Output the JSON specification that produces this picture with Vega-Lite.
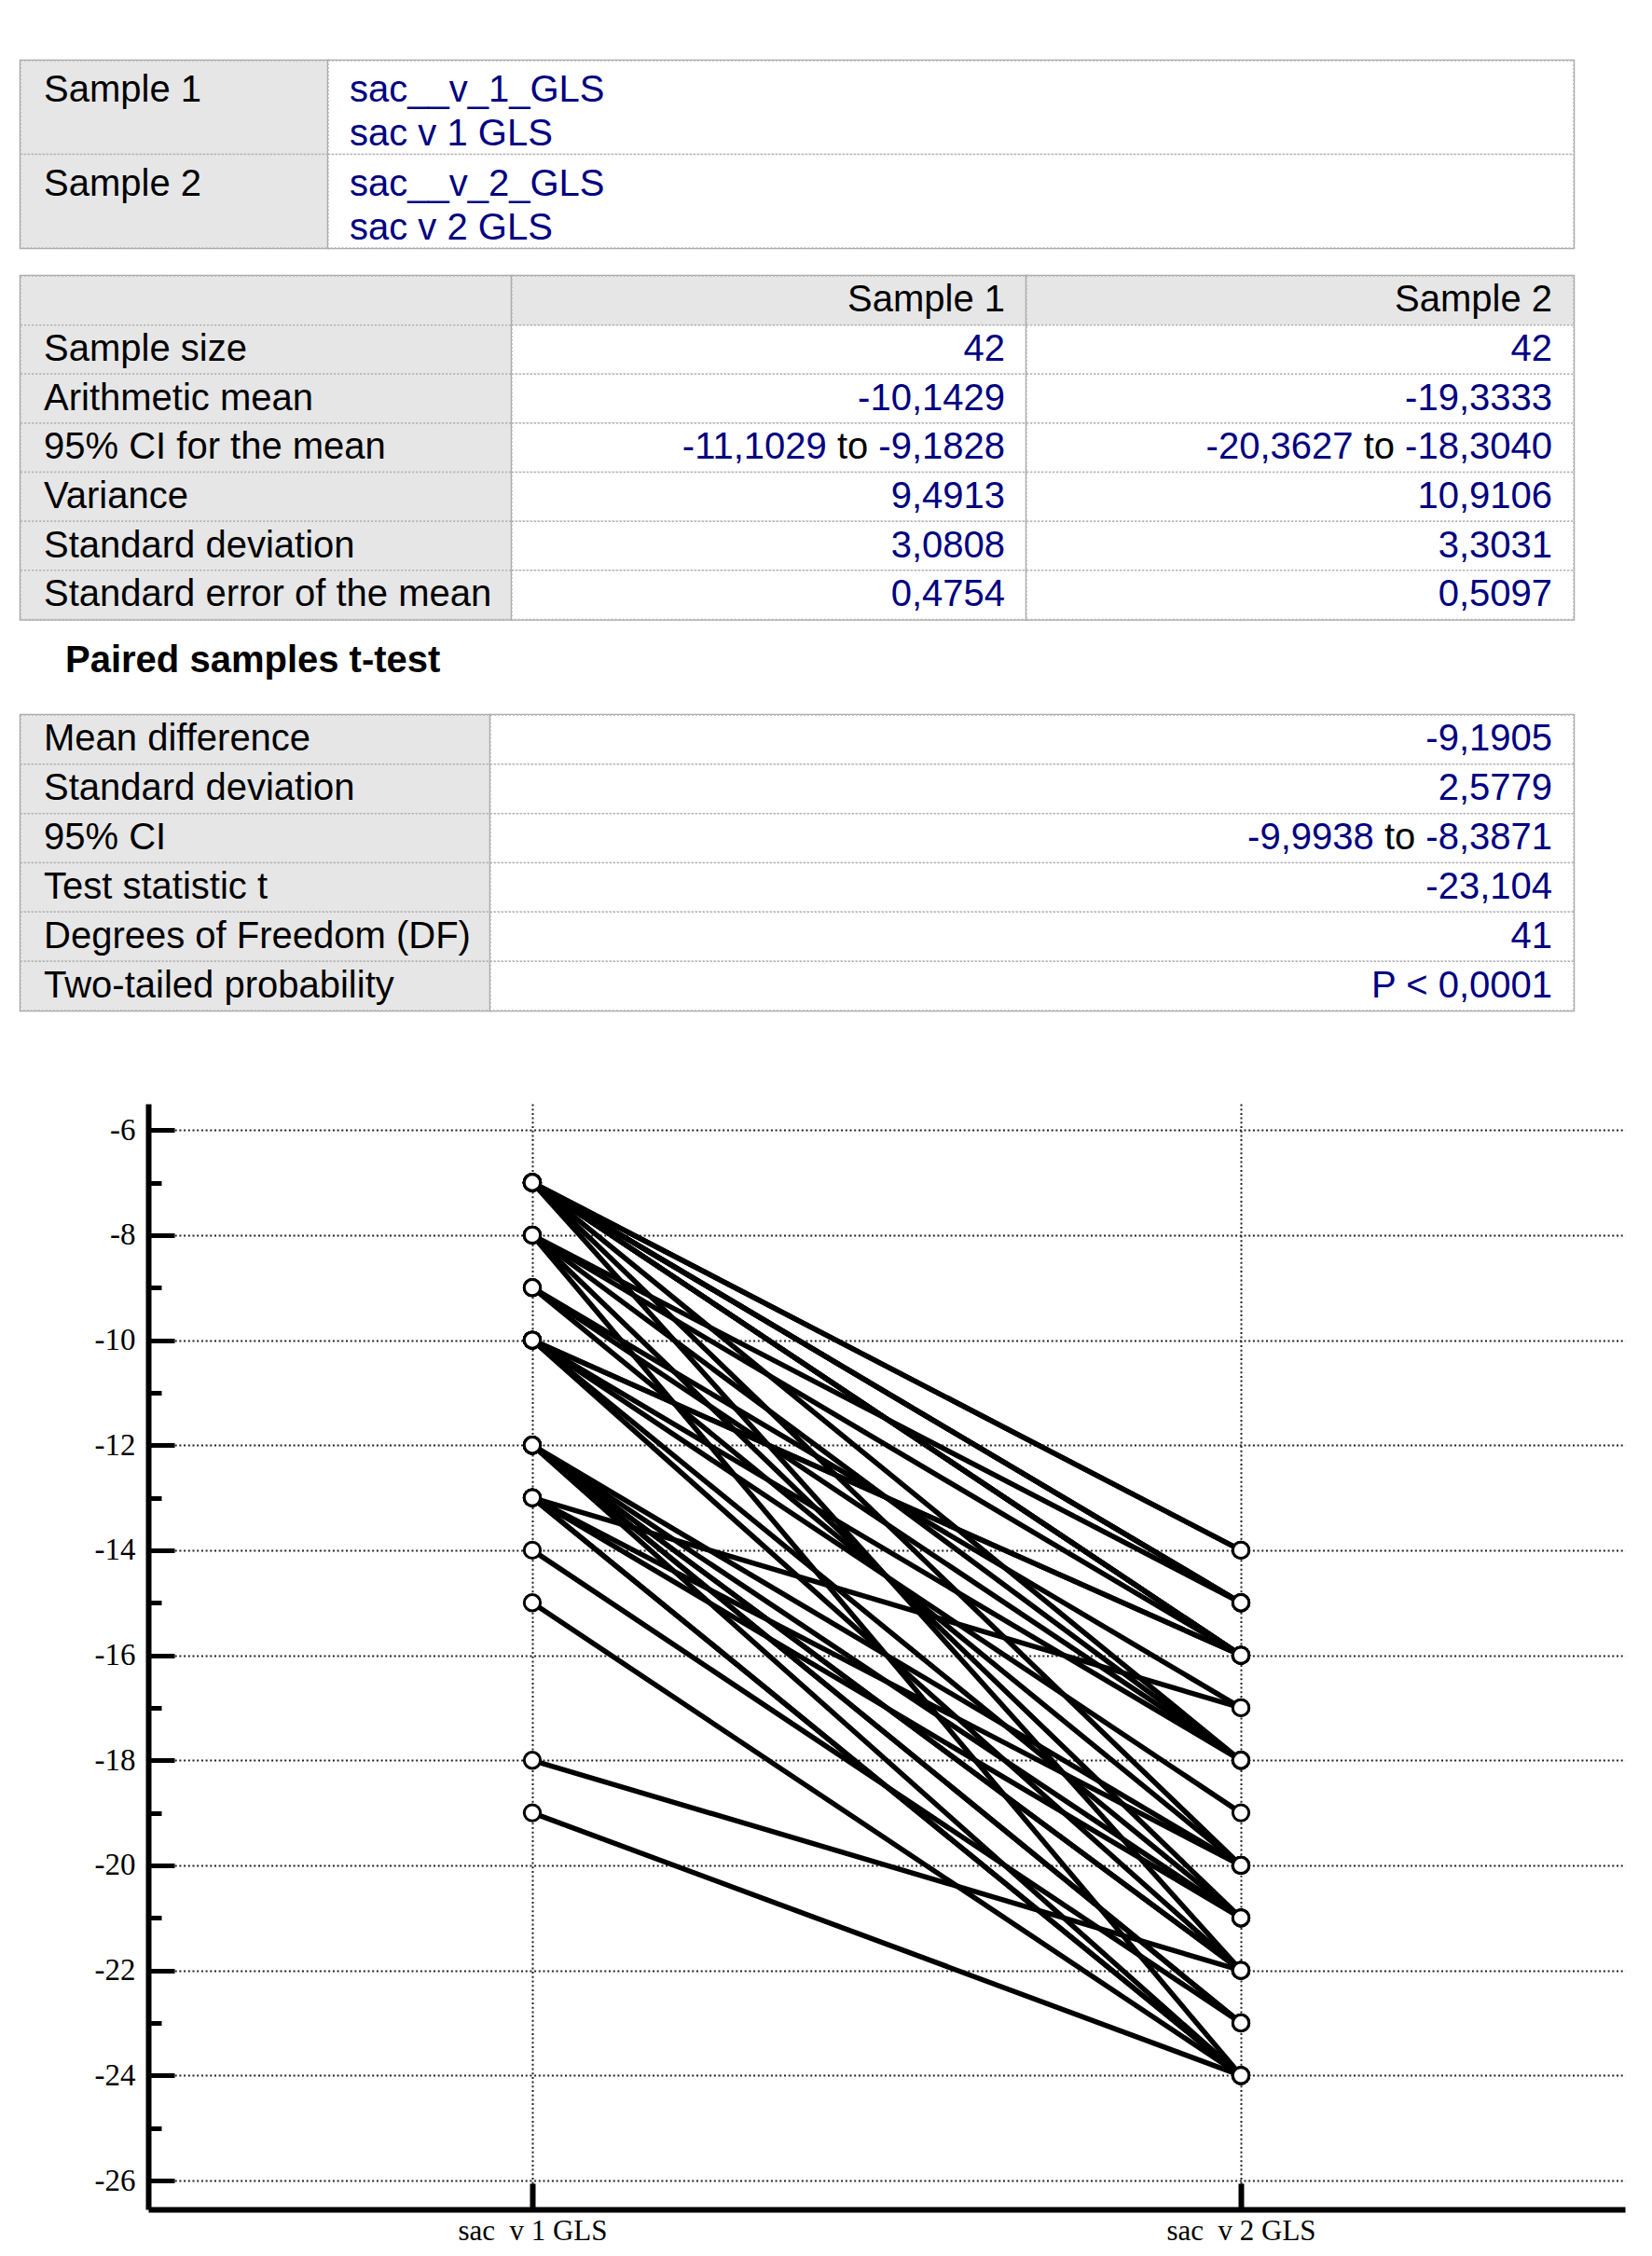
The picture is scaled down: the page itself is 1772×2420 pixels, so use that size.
{
  "$schema": "https://vega.github.io/schema/vega-lite/v6.json",
  "background": "white",
  "padding": {"left": 20, "top": 63, "right": 20, "bottom": 10},
  "config": {"view": {"stroke": null}, "font": "Liberation Sans", "concat": {"spacing": 0}},
  "datasets": {
    "t1": [
      {"r": 0, "c": "a", "text": "Sample 1"},
      {"r": 1, "c": "a", "text": "Sample 2"},
      {"r": 0, "c": "b", "text": "sac__v_1_GLS\nsac v 1 GLS"},
      {"r": 1, "c": "b", "text": "sac__v_2_GLS\nsac v 2 GLS"}
    ],
    "t2": [
      {"r": 0, "c": "a", "text": ""},
      {"r": 0, "c": "b", "text": "Sample 1"},
      {"r": 0, "c": "c", "text": "Sample 2"},
      {"r": 1, "c": "a", "text": "Sample size"},
      {"r": 1, "c": "b", "text": "42"},
      {"r": 1, "c": "c", "text": "42"},
      {"r": 2, "c": "a", "text": "Arithmetic mean"},
      {"r": 2, "c": "b", "text": "-10,1429"},
      {"r": 2, "c": "c", "text": "-19,3333"},
      {"r": 3, "c": "a", "text": "95% CI for the mean"},
      {"r": 3, "c": "b", "text": "-9,1828", "mid": "to", "left": "-11,1029"},
      {"r": 3, "c": "c", "text": "-18,3040", "mid": "to", "left": "-20,3627"},
      {"r": 4, "c": "a", "text": "Variance"},
      {"r": 4, "c": "b", "text": "9,4913"},
      {"r": 4, "c": "c", "text": "10,9106"},
      {"r": 5, "c": "a", "text": "Standard deviation"},
      {"r": 5, "c": "b", "text": "3,0808"},
      {"r": 5, "c": "c", "text": "3,3031"},
      {"r": 6, "c": "a", "text": "Standard error of the mean"},
      {"r": 6, "c": "b", "text": "0,4754"},
      {"r": 6, "c": "c", "text": "0,5097"}
    ],
    "t3": [
      {"r": 0, "c": "a", "text": "Mean difference"},
      {"r": 0, "c": "b", "text": "-9,1905"},
      {"r": 1, "c": "a", "text": "Standard deviation"},
      {"r": 1, "c": "b", "text": "2,5779"},
      {"r": 2, "c": "a", "text": "95% CI"},
      {"r": 2, "c": "b", "text": "-8,3871", "mid": "to", "left": "-9,9938"},
      {"r": 3, "c": "a", "text": "Test statistic t"},
      {"r": 3, "c": "b", "text": "-23,104"},
      {"r": 4, "c": "a", "text": "Degrees of Freedom (DF)"},
      {"r": 4, "c": "b", "text": "41"},
      {"r": 5, "c": "a", "text": "Two-tailed probability"},
      {"r": 5, "c": "b", "text": "P < 0,0001"}
    ],
    "heading": [{"t": "Paired samples t-test"}],
    "pairs": [
      {"pair": 1, "s1": -7, "s2": -14},
      {"pair": 2, "s1": -7, "s2": -14},
      {"pair": 3, "s1": -7, "s2": -15},
      {"pair": 4, "s1": -7, "s2": -15},
      {"pair": 5, "s1": -7, "s2": -15},
      {"pair": 6, "s1": -7, "s2": -16},
      {"pair": 7, "s1": -7, "s2": -16},
      {"pair": 8, "s1": -7, "s2": -16},
      {"pair": 9, "s1": -7, "s2": -16},
      {"pair": 10, "s1": -7, "s2": -18},
      {"pair": 11, "s1": -7, "s2": -20},
      {"pair": 12, "s1": -7, "s2": -22},
      {"pair": 13, "s1": -8, "s2": -15},
      {"pair": 14, "s1": -8, "s2": -16},
      {"pair": 15, "s1": -8, "s2": -18},
      {"pair": 16, "s1": -8, "s2": -21},
      {"pair": 17, "s1": -8, "s2": -24},
      {"pair": 18, "s1": -9, "s2": -17},
      {"pair": 19, "s1": -9, "s2": -18},
      {"pair": 20, "s1": -9, "s2": -20},
      {"pair": 21, "s1": -10, "s2": -16},
      {"pair": 22, "s1": -10, "s2": -16},
      {"pair": 23, "s1": -10, "s2": -18},
      {"pair": 24, "s1": -10, "s2": -19},
      {"pair": 25, "s1": -10, "s2": -21},
      {"pair": 26, "s1": -10, "s2": -22},
      {"pair": 27, "s1": -12, "s2": -20},
      {"pair": 28, "s1": -12, "s2": -21},
      {"pair": 29, "s1": -12, "s2": -22},
      {"pair": 30, "s1": -12, "s2": -22},
      {"pair": 31, "s1": -12, "s2": -23},
      {"pair": 32, "s1": -12, "s2": -23},
      {"pair": 33, "s1": -12, "s2": -24},
      {"pair": 34, "s1": -13, "s2": -17},
      {"pair": 35, "s1": -13, "s2": -20},
      {"pair": 36, "s1": -13, "s2": -21},
      {"pair": 37, "s1": -13, "s2": -24},
      {"pair": 38, "s1": -13, "s2": -24},
      {"pair": 39, "s1": -14, "s2": -23},
      {"pair": 40, "s1": -15, "s2": -24},
      {"pair": 41, "s1": -18, "s2": -22},
      {"pair": 42, "s1": -19, "s2": -24}
    ]
  },
  "bounds": "full",
  "spacing": 0,
  "vconcat": [
    {
      "bounds": "flush",
      "spacing": 0,
      "hconcat": [
        {
          "width": 330, "height": 201,
          "view": {"stroke": "#a8a8a8", "strokeWidth": 2.5},
          "data": {"name": "t1"},
          "transform": [{"filter": "datum.c === 'a'"}],
          "encoding": {"y": {"field": "r", "type": "ordinal", "axis": null, "scale": {"type": "band", "paddingInner": 0, "paddingOuter": 0}}},
          "layer": [
            {"mark": {"type": "rect", "fill": "#e6e6e6", "stroke": "#b4b4b4", "strokeWidth": 1.5, "strokeDash": [2, 2]},
             "encoding": {"x": {"datum": 0, "type": "quantitative", "scale": {"domain": [0, 1]}, "axis": null}, "x2": {"datum": 1}}},
            {"mark": {"type": "text", "align": "left", "baseline": "top", "dx": 25, "dy": 12, "font": "Liberation Sans", "fontSize": 40, "color": "black", "lineBreak": "\n", "lineHeight": 47},
             "encoding": {"x": {"datum": 0, "type": "quantitative"}, "y": {"field": "r", "type": "ordinal", "bandPosition": 0}, "text": {"field": "text"}}}
          ]
        },
        {
          "width": 1336, "height": 201,
          "view": {"stroke": "#a8a8a8", "strokeWidth": 2.5},
          "data": {"name": "t1"},
          "transform": [{"filter": "datum.c === 'b'"}],
          "encoding": {"y": {"field": "r", "type": "ordinal", "axis": null, "scale": {"type": "band", "paddingInner": 0, "paddingOuter": 0}}},
          "layer": [
            {"mark": {"type": "rect", "fill": "white", "stroke": "#b4b4b4", "strokeWidth": 1.5, "strokeDash": [2, 2]},
             "encoding": {"x": {"datum": 0, "type": "quantitative", "scale": {"domain": [0, 1]}, "axis": null}, "x2": {"datum": 1}}},
            {"mark": {"type": "text", "align": "left", "baseline": "top", "dx": 23, "dy": 12, "font": "Liberation Sans", "fontSize": 40, "color": "#000080", "lineBreak": "\n", "lineHeight": 47},
             "encoding": {"x": {"datum": 0, "type": "quantitative"}, "y": {"field": "r", "type": "ordinal", "bandPosition": 0}, "text": {"field": "text"}}}
          ]
        }
      ]
    },
    {"width": 10, "height": 25.5, "data": {"values": [{"k": 1}]}, "mark": {"type": "point", "opacity": 0}},
    {
      "bounds": "flush",
      "spacing": 0,
      "hconcat": [
        {
          "width": 527, "height": 368.5,
          "view": {"stroke": "#a8a8a8", "strokeWidth": 2.5},
          "data": {"name": "t2"},
          "transform": [{"filter": "datum.c === 'a'"}],
          "encoding": {"y": {"field": "r", "type": "ordinal", "axis": null, "scale": {"type": "band", "paddingInner": 0, "paddingOuter": 0}}},
          "layer": [
            {"mark": {"type": "rect", "fill": "#e6e6e6", "stroke": "#b4b4b4", "strokeWidth": 1.5, "strokeDash": [2, 2]},
             "encoding": {"x": {"datum": 0, "type": "quantitative", "scale": {"domain": [0, 1]}, "axis": null}, "x2": {"datum": 1}}},
            {"mark": {"type": "text", "align": "left", "baseline": "middle", "dx": 25, "font": "Liberation Sans", "fontSize": 40, "color": "black"},
             "encoding": {"x": {"datum": 0, "type": "quantitative"}, "text": {"field": "text"}}}
          ]
        },
        {
          "width": 552, "height": 368.5,
          "view": {"stroke": "#a8a8a8", "strokeWidth": 2.5},
          "data": {"name": "t2"},
          "transform": [{"filter": "datum.c === 'b'"}],
          "encoding": {"y": {"field": "r", "type": "ordinal", "axis": null, "scale": {"type": "band", "paddingInner": 0, "paddingOuter": 0}}},
          "layer": [
            {"mark": {"type": "rect", "stroke": "#b4b4b4", "strokeWidth": 1.5, "strokeDash": [2, 2]},
             "encoding": {"x": {"datum": 0, "type": "quantitative", "scale": {"domain": [0, 1]}, "axis": null}, "x2": {"datum": 1},
                          "fill": {"condition": {"test": "datum.r === 0", "value": "#e6e6e6"}, "value": "white"}}},
            {"mark": {"type": "text", "align": "right", "baseline": "middle", "dx": -23, "font": "Liberation Sans", "fontSize": 40},
             "encoding": {"x": {"datum": 1, "type": "quantitative"}, "text": {"field": "text"},
                          "color": {"condition": {"test": "datum.r === 0", "value": "black"}, "value": "#000080"}}},
            {"transform": [{"filter": "datum.mid"}],
             "mark": {"type": "text", "align": "right", "baseline": "middle", "dx": -169.76, "font": "Liberation Sans", "fontSize": 40, "color": "black"},
             "encoding": {"x": {"datum": 1, "type": "quantitative"}, "text": {"field": "mid"}}},
            {"transform": [{"filter": "datum.left"}],
             "mark": {"type": "text", "align": "right", "baseline": "middle", "dx": -214.24, "font": "Liberation Sans", "fontSize": 40, "color": "#000080"},
             "encoding": {"x": {"datum": 1, "type": "quantitative"}, "text": {"field": "left"}}}
          ]
        },
        {
          "width": 587, "height": 368.5,
          "view": {"stroke": "#a8a8a8", "strokeWidth": 2.5},
          "data": {"name": "t2"},
          "transform": [{"filter": "datum.c === 'c'"}],
          "encoding": {"y": {"field": "r", "type": "ordinal", "axis": null, "scale": {"type": "band", "paddingInner": 0, "paddingOuter": 0}}},
          "layer": [
            {"mark": {"type": "rect", "stroke": "#b4b4b4", "strokeWidth": 1.5, "strokeDash": [2, 2]},
             "encoding": {"x": {"datum": 0, "type": "quantitative", "scale": {"domain": [0, 1]}, "axis": null}, "x2": {"datum": 1},
                          "fill": {"condition": {"test": "datum.r === 0", "value": "#e6e6e6"}, "value": "white"}}},
            {"mark": {"type": "text", "align": "right", "baseline": "middle", "dx": -23, "font": "Liberation Sans", "fontSize": 40},
             "encoding": {"x": {"datum": 1, "type": "quantitative"}, "text": {"field": "text"},
                          "color": {"condition": {"test": "datum.r === 0", "value": "black"}, "value": "#000080"}}},
            {"transform": [{"filter": "datum.mid"}],
             "mark": {"type": "text", "align": "right", "baseline": "middle", "dx": -192.0, "font": "Liberation Sans", "fontSize": 40, "color": "black"},
             "encoding": {"x": {"datum": 1, "type": "quantitative"}, "text": {"field": "mid"}}},
            {"transform": [{"filter": "datum.left"}],
             "mark": {"type": "text", "align": "right", "baseline": "middle", "dx": -236.48, "font": "Liberation Sans", "fontSize": 40, "color": "#000080"},
             "encoding": {"x": {"datum": 1, "type": "quantitative"}, "text": {"field": "left"}}}
          ]
        }
      ]
    },
    {
      "width": 1666, "height": 97.5,
      "data": {"name": "heading"},
      "mark": {"type": "text", "align": "left", "baseline": "middle", "dx": 48, "dy": -7, "font": "Liberation Sans", "fontSize": 40, "fontWeight": "bold", "color": "black"},
      "encoding": {"x": {"datum": 0, "type": "quantitative", "scale": {"domain": [0, 1]}, "axis": null}, "text": {"field": "t"}}
    },
    {
      "bounds": "flush",
      "spacing": 0,
      "hconcat": [
        {
          "width": 504, "height": 317,
          "view": {"stroke": "#a8a8a8", "strokeWidth": 2.5},
          "data": {"name": "t3"},
          "transform": [{"filter": "datum.c === 'a'"}],
          "encoding": {"y": {"field": "r", "type": "ordinal", "axis": null, "scale": {"type": "band", "paddingInner": 0, "paddingOuter": 0}}},
          "layer": [
            {"mark": {"type": "rect", "fill": "#e6e6e6", "stroke": "#b4b4b4", "strokeWidth": 1.5, "strokeDash": [2, 2]},
             "encoding": {"x": {"datum": 0, "type": "quantitative", "scale": {"domain": [0, 1]}, "axis": null}, "x2": {"datum": 1}}},
            {"mark": {"type": "text", "align": "left", "baseline": "middle", "dx": 25, "font": "Liberation Sans", "fontSize": 40, "color": "black"},
             "encoding": {"x": {"datum": 0, "type": "quantitative"}, "text": {"field": "text"}}}
          ]
        },
        {
          "width": 1162, "height": 317,
          "view": {"stroke": "#a8a8a8", "strokeWidth": 2.5},
          "data": {"name": "t3"},
          "transform": [{"filter": "datum.c === 'b'"}],
          "encoding": {"y": {"field": "r", "type": "ordinal", "axis": null, "scale": {"type": "band", "paddingInner": 0, "paddingOuter": 0}}},
          "layer": [
            {"mark": {"type": "rect", "fill": "white", "stroke": "#b4b4b4", "strokeWidth": 1.5, "strokeDash": [2, 2]},
             "encoding": {"x": {"datum": 0, "type": "quantitative", "scale": {"domain": [0, 1]}, "axis": null}, "x2": {"datum": 1}}},
            {"mark": {"type": "text", "align": "right", "baseline": "middle", "dx": -23, "font": "Liberation Sans", "fontSize": 40, "color": "#000080"},
             "encoding": {"x": {"datum": 1, "type": "quantitative"}, "text": {"field": "text"}}},
            {"transform": [{"filter": "datum.mid"}],
             "mark": {"type": "text", "align": "right", "baseline": "middle", "dx": -169.76, "font": "Liberation Sans", "fontSize": 40, "color": "black"},
             "encoding": {"x": {"datum": 1, "type": "quantitative"}, "text": {"field": "mid"}}},
            {"transform": [{"filter": "datum.left"}],
             "mark": {"type": "text", "align": "right", "baseline": "middle", "dx": -214.24, "font": "Liberation Sans", "fontSize": 40, "color": "#000080"},
             "encoding": {"x": {"datum": 1, "type": "quantitative"}, "text": {"field": "left"}}}
          ]
        }
      ]
    },
    {"width": 10, "height": 97.5, "data": {"values": [{"k": 1}]}, "mark": {"type": "point", "opacity": 0}},
    {
      "bounds": "flush",
      "spacing": 0,
      "hconcat": [
        {
          "width": 137, "height": 1186,
          "data": {"values": [{"k": 1}]},
          "mark": {"type": "point", "opacity": 0}
        },
        {
          "width": 1584, "height": 1186,
          "data": {"name": "pairs"},
          "transform": [{"fold": ["s1", "s2"], "as": ["sample", "value"]}],
          "encoding": {
            "x": {"field": "sample", "type": "nominal", "scale": {"type": "point", "padding": 0.542},
                  "axis": {"title": null, "labelExpr": "datum.value === 's1' ? 'sac\u00a0 v 1 GLS' : 'sac\u00a0 v 2 GLS'", "labelAngle": 0,
                           "grid": true, "gridDash": [2, 2.7], "gridColor": "#222222", "gridWidth": 2,
                           "domainColor": "black", "domainWidth": 6, "tickColor": "black", "tickWidth": 6, "tickSize": -28,
                           "labelPadding": 36, "labelFont": "Liberation Serif", "labelFontSize": 31, "labelColor": "black", "labelBaseline": "top"}},
            "y": {"field": "value", "type": "quantitative", "scale": {"domain": [-26.55, -5.5], "nice": false, "zero": false},
                  "axis": {"title": null,
                           "values": [-26, -25, -24, -23, -22, -21, -20, -19, -18, -17, -16, -15, -14, -13, -12, -11, -10, -9, -8, -7, -6],
                           "labelExpr": "datum.value % 2 === 0 ? '' + datum.value : ''", "labelOverlap": false,
                           "grid": true, "gridDash": [2, 2.7], "gridColor": "#222222", "gridWidth": 2,
                           "gridOpacity": {"condition": {"test": "datum.value % 2 === 0", "value": 1}, "value": 0},
                           "domainColor": "black", "domainWidth": 6, "tickColor": "black", "tickWidth": 5,
                           "tickSize": {"condition": {"test": "datum.value % 2 === 0", "value": -28}, "value": -14},
                           "labelPadding": 42, "labelFont": "Liberation Serif", "labelFontSize": 33, "labelColor": "black"}}
          },
          "layer": [
            {"mark": {"type": "line", "color": "black", "strokeWidth": 5.5}, "encoding": {"detail": {"field": "pair", "type": "nominal"}}},
            {"mark": {"type": "point", "shape": "circle", "filled": true, "fill": "white", "stroke": "black", "strokeWidth": 3, "size": 300, "opacity": 1}}
          ]
        }
      ]
    }
  ]
}
